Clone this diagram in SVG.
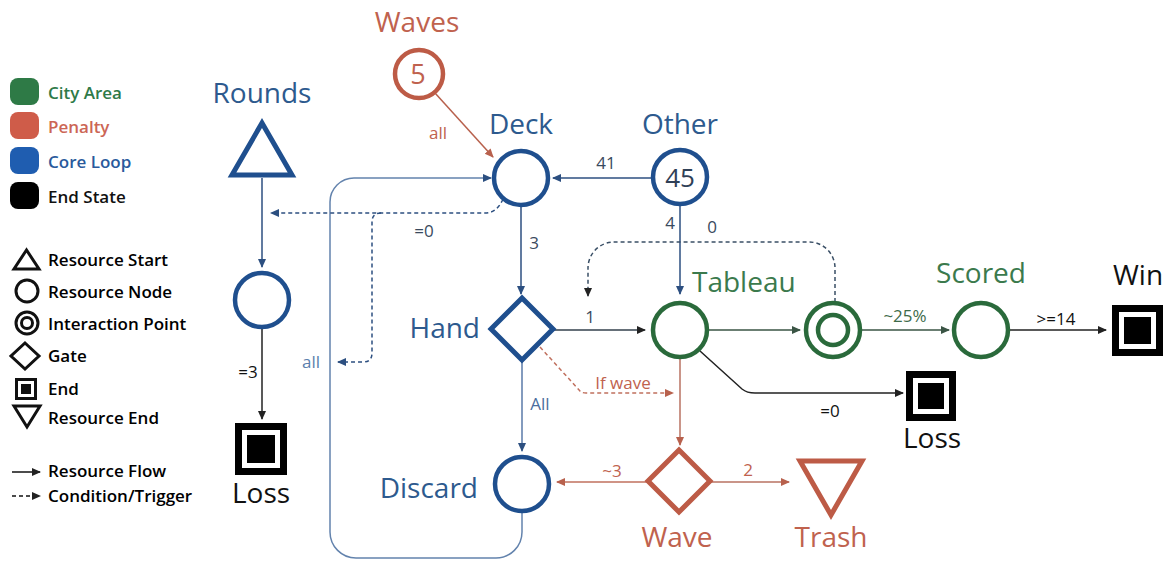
<svg xmlns="http://www.w3.org/2000/svg" width="1174" height="562" viewBox="0 0 1174 562">
<style>
text{font-family:"Open Sans","Liberation Sans",sans-serif}
.leg{font-size:17px;font-weight:600}
.nl{font-size:28px;text-anchor:middle}
.el{font-size:17px;text-anchor:middle}
.blue{fill:#2d5a8e}
.green{fill:#3b7a4d}
.red{fill:#c0624e}
.blk{fill:#111}
.ns-b{fill:none;stroke:#1f4f8e;stroke-width:4.5}
.ns-g{fill:none;stroke:#2a6a3b;stroke-width:4.5}
.ns-r{fill:none;stroke:#bd5b46;stroke-width:4.5}
.c{fill:none;stroke-width:1.5}
.dash{stroke-dasharray:4 3}
.lg{fill:none;stroke:#111;stroke-width:3}
</style>
<defs>
<marker id="ab" markerUnits="userSpaceOnUse" markerWidth="10" markerHeight="10" refX="8" refY="4" orient="auto"><path d="M0,0 L9,4 L0,8 Z" fill="#2c4f80"/></marker>
<marker id="ak" markerUnits="userSpaceOnUse" markerWidth="10" markerHeight="10" refX="8" refY="4" orient="auto"><path d="M0,0 L9,4 L0,8 Z" fill="#222"/></marker>
<marker id="ar" markerUnits="userSpaceOnUse" markerWidth="10" markerHeight="10" refX="8" refY="4" orient="auto"><path d="M0,0 L9,4 L0,8 Z" fill="#b8614d"/></marker>
<marker id="ag" markerUnits="userSpaceOnUse" markerWidth="10" markerHeight="10" refX="8" refY="4" orient="auto"><path d="M0,0 L9,4 L0,8 Z" fill="#3a5444"/></marker>
</defs>
<rect width="1174" height="562" fill="#fff"/>

<g id="legend">
<rect x="10" y="78" width="29" height="27" rx="8" fill="#2e7a46"/>
<rect x="10" y="112" width="29" height="27" rx="8" fill="#cf5c49"/>
<rect x="10" y="147" width="29" height="27" rx="8" fill="#1f5db0"/>
<rect x="10" y="182" width="29" height="27" rx="8" fill="#000"/>
<text class="leg" x="48" y="99" fill="#2e7a48">City Area</text>
<text class="leg" x="48" y="133" fill="#cc6655">Penalty</text>
<text class="leg" x="48" y="168" fill="#2a5a9c">Core Loop</text>
<text class="leg" x="48" y="203" fill="#111">End State</text>
<polygon class="lg" points="26.5,250 14,269 39,269"/>
<circle class="lg" cx="27" cy="291" r="11"/>
<circle class="lg" cx="27" cy="323" r="11"/>
<circle class="lg" cx="27" cy="323" r="5.5"/>
<polygon class="lg" points="25,343 39,356 25,369 11,356"/>
<rect x="16.5" y="379.5" width="19" height="19" fill="none" stroke="#111" stroke-width="3"/>
<rect x="21" y="384" width="10" height="10" fill="#111"/>
<polygon class="lg" points="14,406 40,406 27,427"/>
<text class="leg" x="48" y="266">Resource Start</text>
<text class="leg" x="48" y="298">Resource Node</text>
<text class="leg" x="48" y="330">Interaction Point</text>
<text class="leg" x="48" y="362">Gate</text>
<text class="leg" x="48" y="395">End</text>
<text class="leg" x="48" y="424">Resource End</text>
<path d="M12,472 H40" stroke="#111" stroke-width="1.5" marker-end="url(#ak)"/>
<path d="M12,496 H40" stroke="#111" stroke-width="1.5" stroke-dasharray="4 3" marker-end="url(#ak)"/>
<text class="leg" x="48" y="477">Resource Flow</text>
<text class="leg" x="48" y="502">Condition/Trigger</text>
</g>

<g id="connectors">
<path class="c" stroke="#b8614d" d="M435,93 L493,157" marker-end="url(#ar)"/>
<text class="el red" x="438" y="139">all</text>
<path class="c" stroke="#2c4f80" d="M652,178 H553" marker-end="url(#ab)"/>
<text class="el" fill="#3a4a5e" x="606" y="169">41</text>
<path class="c" stroke="#6383ad" d="M522,511 V532 A26,26 0 0 1 496,558 H356 A26,26 0 0 1 330,532 V202 A24,24 0 0 1 354,178 H491" marker-end="url(#ab)"/>
<path class="c dash" stroke="#2c4f80" d="M503,199 Q497,213 485,213 H271" marker-end="url(#ab)"/>
<path class="c dash" stroke="#2c4f80" d="M381,213 Q372,213 372,222 V353 Q372,362 363,362 H338" marker-end="url(#ab)"/>
<text class="el" fill="#3a4a5e" x="424" y="237">=0</text>
<text class="el" fill="#5b80ad" x="311" y="368">all</text>
<path class="c" stroke="#2c4f80" d="M262,178 V267" marker-end="url(#ab)"/>
<path class="c" stroke="#222" d="M262,328 V419" marker-end="url(#ak)"/>
<text class="el blk" x="248" y="378">=3</text>
<path class="c" stroke="#2c4f80" d="M521,206 V294" marker-end="url(#ab)"/>
<text class="el" fill="#3a4a5e" x="534" y="249">3</text>
<path class="c" stroke="#33404d" d="M554,330 H645" marker-end="url(#ak)"/>
<text class="el" fill="#3a4a5e" x="590" y="323">1</text>
<path class="c" stroke="#2c4f80" d="M680,205 V294" marker-end="url(#ab)"/>
<text class="el" fill="#3a4a5e" x="670" y="229">4</text>
<text class="el" fill="#3a4a5e" x="712" y="233">0</text>
<path class="c dash" stroke="#3a4f66" d="M835,302 V268 A26,26 0 0 0 809,242 H614 A26,26 0 0 0 588,268 V296" marker-end="url(#ak)"/>
<path class="c" stroke="#3a5444" d="M708,330 H800" marker-end="url(#ag)"/>
<path class="c" stroke="#3a5444" d="M861,330 H949" marker-end="url(#ag)"/>
<text class="el" fill="#3e6b4a" x="905" y="322">~25%</text>
<path class="c" stroke="#222" d="M1009,330 H1106" marker-end="url(#ak)"/>
<text class="el blk" x="1056" y="325">&gt;=14</text>
<path class="c" stroke="#222" d="M700,351 L742,389 Q747,393 755,393 H903" marker-end="url(#ak)"/>
<text class="el blk" x="830" y="417">=0</text>
<path class="c" stroke="#b87262" d="M680,358 V445" marker-end="url(#ar)"/>
<path class="c dash" stroke="#c0705e" d="M540,347 L580,391 Q582,393 586,393 H673" marker-end="url(#ar)"/>
<text class="el red" x="623" y="389">If wave</text>
<path class="c" stroke="#5a7aa8" d="M522,362 V451" marker-end="url(#ab)"/>
<text class="el" fill="#4a6e9e" x="540" y="410">All</text>
<path class="c" stroke="#c0705e" d="M648,482 H557" marker-end="url(#ar)"/>
<text class="el red" x="612" y="477">~3</text>
<path class="c" stroke="#b87262" d="M710,482 H789" marker-end="url(#ar)"/>
<text class="el red" x="748" y="476">2</text>
</g>

<g id="waves">
<circle class="ns-r" cx="419" cy="74" r="24"/>
<text class="nl red" x="417" y="32">Waves</text>
<text class="nl red" x="418" y="84" style="font-size:27px">5</text>
</g>
<g id="deck">
<circle class="ns-b" cx="521" cy="178" r="27"/>
<text class="nl blue" x="521" y="134">Deck</text>
</g>
<g id="other">
<circle class="ns-b" cx="680" cy="177" r="27"/>
<text class="nl blue" x="680" y="134">Other</text>
<text class="nl" fill="#2f4057" x="680" y="187" style="font-size:26px">45</text>
</g>
<g id="rounds">
<polygon points="262,123 232,175 292,175" fill="none" stroke="#1f4f8e" stroke-width="5"/>
<text class="nl blue" x="262" y="103">Rounds</text>
</g>
<g id="rounds-node">
<circle class="ns-b" cx="262" cy="300" r="27"/>
</g>
<g id="loss-left">
<rect x="238.5" y="426.5" width="45" height="45" fill="#fff" stroke="#000" stroke-width="7"/>
<rect x="247" y="435" width="28" height="28" fill="#000"/>
<text class="nl blk" x="261" y="503">Loss</text>
</g>
<g id="hand">
<polygon points="522,298 553,329 522,360 491,329" fill="none" stroke="#1f4f8e" stroke-width="5"/>
<text class="nl blue" x="480" y="338" style="text-anchor:end">Hand</text>
</g>
<g id="discard">
<circle class="ns-b" cx="522" cy="484" r="27"/>
<text class="nl blue" x="478" y="498" style="text-anchor:end">Discard</text>
</g>
<g id="tableau">
<circle class="ns-g" cx="680" cy="330" r="27"/>
<text class="nl green" x="692" y="292" style="text-anchor:start">Tableau</text>
</g>
<g id="interaction">
<circle class="ns-g" cx="833" cy="330" r="27"/>
<circle class="ns-g" cx="833" cy="330" r="15"/>
</g>
<g id="scored">
<circle class="ns-g" cx="981" cy="330" r="27"/>
<text class="nl green" x="981" y="283">Scored</text>
</g>
<g id="win">
<rect x="1115.5" y="308.5" width="44" height="44" fill="#fff" stroke="#000" stroke-width="7"/>
<rect x="1124" y="317" width="27" height="27" fill="#000"/>
<text class="nl blk" x="1138" y="285">Win</text>
</g>
<g id="loss-right">
<rect x="909.5" y="374.5" width="43" height="43" fill="#fff" stroke="#000" stroke-width="7"/>
<rect x="918" y="383" width="26" height="26" fill="#000"/>
<text class="nl blk" x="932" y="448">Loss</text>
</g>
<g id="wave">
<polygon points="679,450 710,481 679,512 648,481" fill="none" stroke="#bd5b46" stroke-width="5"/>
<text class="nl red" x="677" y="547">Wave</text>
</g>
<g id="trash">
<polygon points="800,461 862,461 831,515" fill="none" stroke="#bd5b46" stroke-width="5"/>
<text class="nl red" x="831" y="547">Trash</text>
</g>
</svg>
